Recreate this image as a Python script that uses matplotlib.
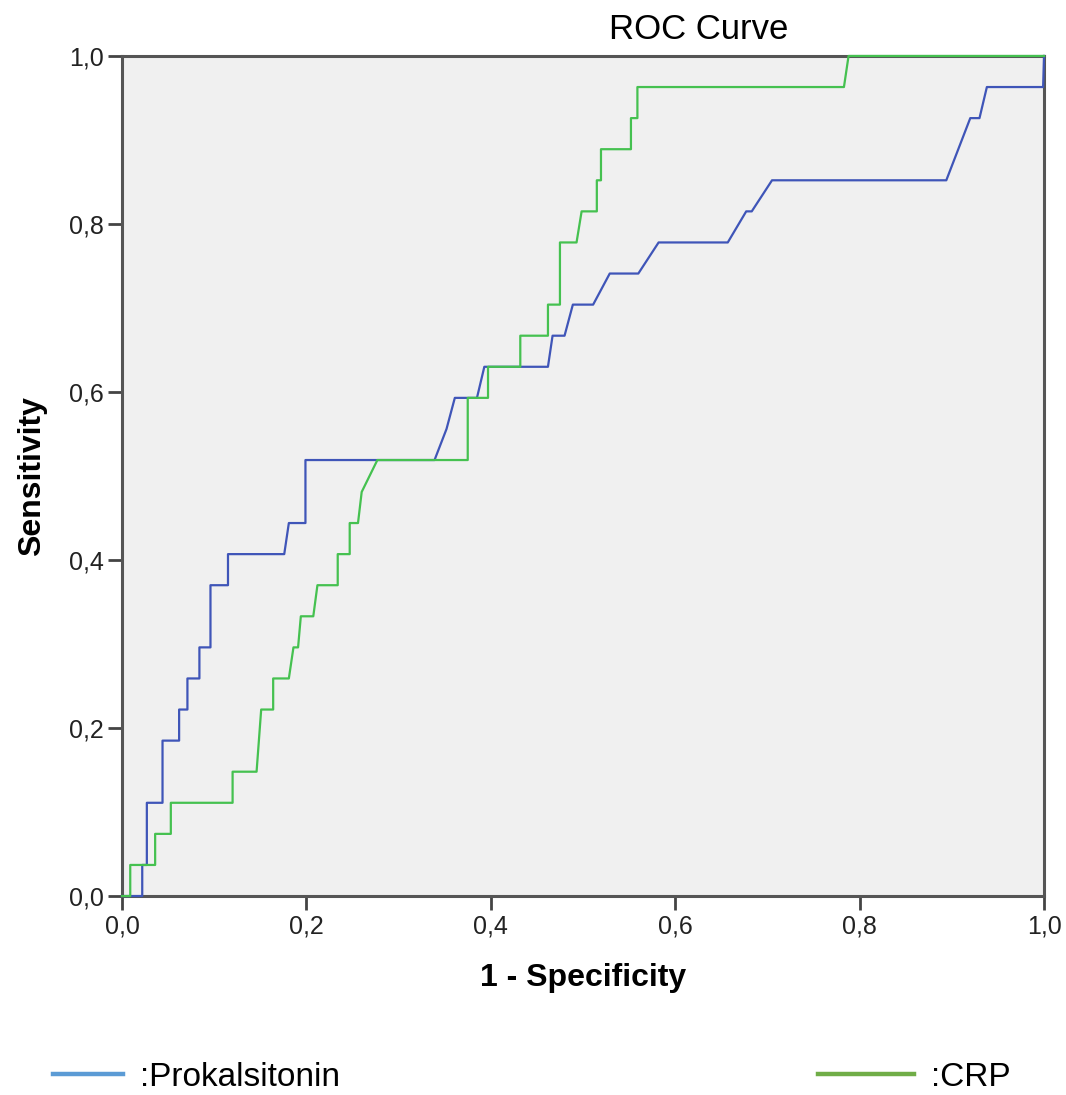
import matplotlib
matplotlib.use('Agg')
import matplotlib.pyplot as plt
from matplotlib.lines import Line2D

plt.rcParams['font.family'] = ['Liberation Sans', 'DejaVu Sans']

# ROC-kurvor (1 - specificitet, sensitivitet)
pct_fpr = [0.0, 0.022, 0.022, 0.027, 0.027, 0.044, 0.044, 0.062, 0.062, 0.071, 0.071,
           0.084, 0.084, 0.096, 0.096, 0.115, 0.115, 0.176, 0.181, 0.199, 0.199, 0.339,
           0.352, 0.361, 0.385, 0.393, 0.462, 0.467, 0.480, 0.489, 0.511, 0.529, 0.560,
           0.582, 0.657, 0.677, 0.683, 0.705, 0.894, 0.920, 0.930, 0.938, 0.999, 1.0]
pct_tpr = [0.0, 0.0, 0.037, 0.037, 0.111, 0.111, 0.185, 0.185, 0.222, 0.222, 0.259,
           0.259, 0.296, 0.296, 0.370, 0.370, 0.407, 0.407, 0.444, 0.444, 0.519, 0.519,
           0.556, 0.593, 0.593, 0.630, 0.630, 0.667, 0.667, 0.704, 0.704, 0.741, 0.741,
           0.778, 0.778, 0.815, 0.815, 0.852, 0.852, 0.926, 0.926, 0.963, 0.963, 1.0]

crp_fpr = [0.0, 0.009, 0.009, 0.036, 0.036, 0.053, 0.053, 0.120, 0.120, 0.146, 0.151,
           0.164, 0.164, 0.181, 0.186, 0.191, 0.194, 0.2075, 0.212, 0.234, 0.234, 0.247,
           0.247, 0.256, 0.260, 0.277, 0.375, 0.375, 0.397, 0.397, 0.432, 0.432, 0.462,
           0.462, 0.475, 0.475, 0.493, 0.4985, 0.515, 0.515, 0.5195, 0.5195, 0.552, 0.552,
           0.559, 0.559, 0.783, 0.788, 1.0]
crp_tpr = [0.0, 0.0, 0.037, 0.037, 0.074, 0.074, 0.111, 0.111, 0.148, 0.148, 0.222,
           0.222, 0.259, 0.259, 0.296, 0.296, 0.333, 0.333, 0.370, 0.370, 0.407, 0.407,
           0.444, 0.444, 0.481, 0.519, 0.519, 0.593, 0.593, 0.630, 0.630, 0.667, 0.667,
           0.704, 0.704, 0.778, 0.778, 0.815, 0.815, 0.852, 0.852, 0.889, 0.889, 0.926,
           0.926, 0.963, 0.963, 1.0, 1.0]

ticks = [0.0, 0.2, 0.4, 0.6, 0.8, 1.0]
tick_labels = ['0,0', '0,2', '0,4', '0,6', '0,8', '1,0']

fig = plt.figure(figsize=(10.66, 10.95), dpi=100)
ax = fig.add_axes([0.1144, 0.1817, 0.865, 0.7672])
ax.set_facecolor('#f0f0f0')

ax.plot(pct_fpr, pct_tpr, color='#3f55b8', lw=1.6, zorder=3, clip_on=False)
ax.plot(crp_fpr, crp_tpr, color='#45c150', lw=1.6, zorder=3, clip_on=False)

ax.set_xlim(0, 1)
ax.set_ylim(0, 1)
ax.set_xticks(ticks)
ax.set_xticklabels(tick_labels)
ax.set_yticks(ticks)
ax.set_yticklabels(tick_labels)
ax.tick_params(direction='out', length=10, width=2, color='#444444',
               labelsize=18, labelcolor='#222222', pad=3)
for s in ax.spines.values():
    s.set_color('#555555')
    s.set_linewidth(2.2)

ax.set_xlabel('1 - Specificity', fontsize=23, fontweight='bold', labelpad=18)
ax.set_ylabel('Sensitivity', fontsize=23, fontweight='bold', labelpad=16)
fig.text(0.655, 0.973, 'ROC Curve', fontsize=25, ha='center', va='center')

# Förklaringar längst ned
leg1 = fig.legend(handles=[Line2D([], [], color='#5b9bd5', lw=3.2)], labels=[':Prokalsitonin'],
                  loc='center left', bbox_to_anchor=(0.022, 0.0164), frameon=False,
                  fontsize=24, handlelength=2.1, handletextpad=0.5)
leg2 = fig.legend(handles=[Line2D([], [], color='#70ad47', lw=3.2)], labels=[':CRP'],
                  loc='center left', bbox_to_anchor=(0.739, 0.0164), frameon=False,
                  fontsize=24, handlelength=2.9, handletextpad=0.5)

plt.savefig('out.png', dpi=100)
